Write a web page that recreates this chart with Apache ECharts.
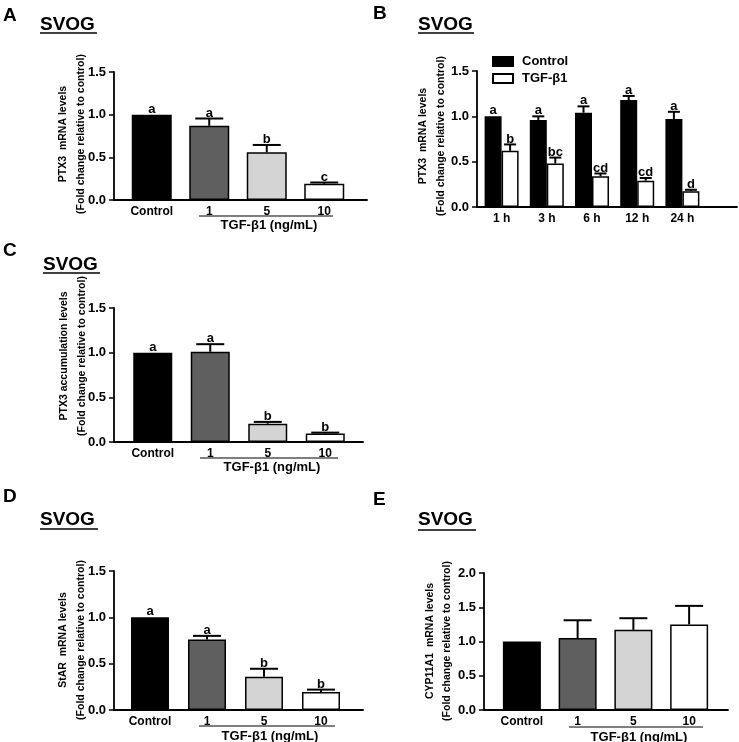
<!DOCTYPE html>
<html>
<head>
<meta charset="utf-8">
<script src="https://cdn.jsdelivr.net/npm/echarts@6/dist/echarts.min.js"></script>
<style>
html,body{margin:0;padding:0;background:#fff;}
#main{width:739px;height:742px;}
</style>
</head>
<body>
<div id="main"></div>
<script>
// ---- data ----
var doseCats = ['Control', '1', '5', '10'];
var doseColors = ['#000000', '#5f5f5f', '#d4d4d4', '#ffffff'];

// A: PTX3 mRNA, dose
var aVals = [1.0, 0.87, 0.56, 0.19];
var aErr = [0, 0.085, 0.085, 0.015];
var aLetters = ['a', 'a', 'b', 'c'];

// B: PTX3 mRNA, time course
var timeCats = ['1 h', '3 h', '6 h', '12 h', '24 h'];
var bCtrl = [1.0, 0.96, 1.04, 1.18, 0.97];
var bCtrlErr = [0, 0.04, 0.07, 0.045, 0.08];
var bCtrlLetters = ['a', 'a', 'a', 'a', 'a'];
var bTgf = [0.62, 0.48, 0.34, 0.29, 0.175];
var bTgfErr = [0.07, 0.065, 0.03, 0.03, 0.015];
var bTgfLetters = ['b', 'bc', 'cd', 'cd', 'd'];

// C: PTX3 accumulation
var cVals = [1.0, 1.01, 0.205, 0.095];
var cErr = [0, 0.085, 0.02, 0.01];
var cLetters = ['a', 'a', 'b', 'b'];

// D: StAR mRNA
var dVals = [1.0, 0.76, 0.36, 0.195];
var dErr = [0, 0.04, 0.085, 0.025];
var dLetters = ['a', 'a', 'b', 'b'];

// E: CYP11A1 mRNA
var eVals = [1.0, 1.05, 1.17, 1.25];
var eErr = [0, 0.26, 0.17, 0.27];
var eLetters = ['', '', '', ''];

var yTicks15 = [0, 1.5, 0.5];
var yTicks20 = [0, 2.0, 0.5];

var FONT = '"Liberation Sans", Arial, sans-serif';

// ---- layout of each panel (pixels) ----
var panels = [
  {ax: 114, top: 72, y0: 200, end: 367, inL: 123, inW: 230, bw: 40, ticks: yTicks15, cats: doseCats,
   t1: 'PTX3  mRNA levels', t1x: 63, t2x: 81, tcy: 134},
  {ax: 477, top: 71, y0: 207, end: 737, inL: 479, inW: 226, bw: 17, ticks: yTicks15, cats: timeCats,
   t1: 'PTX3  mRNA levels', t1x: 423, t2x: 441, tcy: 136},
  {ax: 114, top: 308, y0: 442, end: 363, inL: 124, inW: 230, bw: 39, ticks: yTicks15, cats: doseCats,
   t1: 'PTX3 accumulation levels', t1x: 64, t2x: 82, tcy: 356},
  {ax: 114, top: 571, y0: 710, end: 363, inL: 121.5, inW: 228, bw: 38, ticks: yTicks15, cats: doseCats,
   t1: 'StAR  mRNA levels', t1x: 63, t2x: 81, tcy: 640},
  {ax: 484, top: 573, y0: 710, end: 728, inL: 494, inW: 223, bw: 38, ticks: yTicks20, cats: doseCats,
   t1: 'CYP11A1  mRNA levels', t1x: 430, t2x: 447, tcy: 641}
];

var heads = [
  {l: 'A', lx: 3, ly: 16, sx: 40, sy: 25, uy: 33, ux2: 97},
  {l: 'B', lx: 373, ly: 14, sx: 418, sy: 25, uy: 33, ux2: 474},
  {l: 'C', lx: 3, ly: 251, sx: 43, sy: 265, uy: 273, ux2: 100},
  {l: 'D', lx: 3, ly: 497, sx: 40, sy: 520, uy: 529, ux2: 98},
  {l: 'E', lx: 373, ly: 500, sx: 418, sy: 520, uy: 530, ux2: 476}
];

// TGF-b1 dose brackets under panels A, C, D, E
var brackets = [
  {x1: 199, x2: 333, y: 216, ty: 225},
  {x1: 200, x2: 338, y: 458, ty: 467},
  {x1: 199, x2: 335, y: 726, ty: 736},
  {x1: 569, x2: 703, y: 727, ty: 737}
];

var grids = [], xAxes = [], yAxes = [], series = [], graphics = [];

function errSeries(gi, vals, errs, letters, offset, capW) {
  return {
    type: 'custom',
    xAxisIndex: gi, yAxisIndex: gi,
    z: 5,
    data: vals.map(function (v, i) { return [i, v, errs[i]]; }),
    renderItem: function (params, api) {
      var i = api.value(0), v = api.value(1), e = api.value(2);
      var base = api.coord([i, v]);
      var top = api.coord([i, v + e]);
      var x = base[0] + offset;
      var ch = [];
      if (e > 0) {
        ch.push({type: 'line', shape: {x1: x, y1: base[1], x2: x, y2: top[1]}, style: {stroke: '#000', lineWidth: 2}});
        ch.push({type: 'line', shape: {x1: x - capW / 2, y1: top[1], x2: x + capW / 2, y2: top[1]}, style: {stroke: '#000', lineWidth: 2}});
      }
      var lab = letters[params.dataIndex];
      if (lab) {
        ch.push({type: 'text', style: {text: lab, x: x, y: top[1] + 1, align: 'center', verticalAlign: 'bottom',
          font: 'bold 13px ' + FONT, fill: '#000'}});
      }
      return {type: 'group', children: ch};
    }
  };
}

panels.forEach(function (p, k) {
  var h = p.y0 - p.top;
  // outer grid: axis lines + y labels
  grids.push({left: p.ax, top: p.top, width: p.end - p.ax, height: h});
  // inner grid: categories / bars
  grids.push({left: p.inL, top: p.top, width: p.inW, height: h});
  var go = 2 * k, gi = 2 * k + 1;
  xAxes.push({gridIndex: go, type: 'value', min: 0, max: 1,
    axisLine: {show: true, lineStyle: {color: '#000', width: 1.8}},
    axisTick: {show: false}, axisLabel: {show: false}, splitLine: {show: false}});
  xAxes.push({gridIndex: gi, type: 'category', data: p.cats,
    axisLine: {show: false}, axisTick: {show: false}, splitLine: {show: false},
    axisLabel: {color: '#000', fontWeight: 'bold', fontSize: 12, fontFamily: FONT, margin: 6}});
  yAxes.push({gridIndex: go, type: 'value', min: p.ticks[0], max: p.ticks[1], interval: p.ticks[2],
    axisLine: {show: true, lineStyle: {color: '#000', width: 1.8}},
    axisTick: {show: true, length: 5, lineStyle: {color: '#000', width: 1.5}},
    splitLine: {show: false},
    axisLabel: {color: '#000', fontWeight: 'bold', fontSize: 13, fontFamily: FONT, margin: 8,
      formatter: function (v) { return v.toFixed(1); }}});
  yAxes.push({gridIndex: gi, type: 'value', min: p.ticks[0], max: p.ticks[1], interval: p.ticks[2], show: false});

  graphics.push({type: 'text', x: p.t1x, y: p.tcy, rotation: Math.PI / 2,
    style: {text: p.t1, x: 0, y: 0, align: 'center', verticalAlign: 'middle', font: 'bold 10.5px ' + FONT, fill: '#000'}});
  graphics.push({type: 'text', x: p.t2x, y: p.tcy, rotation: Math.PI / 2,
    style: {text: '(Fold change relative to control)', x: 0, y: 0, align: 'center', verticalAlign: 'middle',
      font: 'bold 10.5px ' + FONT, fill: '#000'}});
});

function doseBars(gi, name, vals) {
  return {
    type: 'bar', name: name, xAxisIndex: gi, yAxisIndex: gi, barWidth: panels[(gi - 1) / 2].bw,
    data: vals.map(function (v, i) {
      return {value: v, itemStyle: {color: doseColors[i], borderColor: '#000', borderWidth: 1.5}};
    })
  };
}

// A
series.push(doseBars(1, 'PTX3 mRNA', aVals));
series.push(errSeries(1, aVals, aErr, aLetters, 0, 28));
// B
series.push({type: 'bar', name: 'Control', xAxisIndex: 3, yAxisIndex: 3, barWidth: 17, barGap: '0%',
  itemStyle: {color: '#000', borderColor: '#000', borderWidth: 1.5}, data: bCtrl});
series.push({type: 'bar', name: 'TGF-β1', xAxisIndex: 3, yAxisIndex: 3, barWidth: 17, barGap: '0%',
  itemStyle: {color: '#fff', borderColor: '#000', borderWidth: 1.5}, data: bTgf});
series.push(errSeries(3, bCtrl, bCtrlErr, bCtrlLetters, -8.5, 12));
series.push(errSeries(3, bTgf, bTgfErr, bTgfLetters, 8.5, 12));
// C
series.push(doseBars(5, 'PTX3 accumulation', cVals));
series.push(errSeries(5, cVals, cErr, cLetters, 0, 28));
// D
series.push(doseBars(7, 'StAR mRNA', dVals));
series.push(errSeries(7, dVals, dErr, dLetters, 0, 28));
// E
series.push(doseBars(9, 'CYP11A1 mRNA', eVals));
series.push(errSeries(9, eVals, eErr, eLetters, 0, 28));

heads.forEach(function (hd) {
  graphics.push({type: 'text', x: hd.lx, y: hd.ly,
    style: {text: hd.l, x: 0, y: 0, align: 'left', verticalAlign: 'middle', font: 'bold 19px ' + FONT, fill: '#000'}});
  graphics.push({type: 'text', x: hd.sx, y: hd.sy,
    style: {text: 'SVOG', x: 0, y: 0, align: 'left', verticalAlign: 'middle', font: 'bold 19px ' + FONT, fill: '#000'}});
  graphics.push({type: 'line', shape: {x1: hd.sx, y1: hd.uy, x2: hd.ux2, y2: hd.uy}, style: {stroke: '#000', lineWidth: 1.5}});
});

brackets.forEach(function (b) {
  graphics.push({type: 'line', shape: {x1: b.x1, y1: b.y, x2: b.x2, y2: b.y}, style: {stroke: '#000', lineWidth: 1.2}});
  graphics.push({type: 'text', x: (b.x1 + b.x2) / 2 + 3, y: b.ty,
    style: {text: 'TGF-β1 (ng/mL)', x: 0, y: 0, align: 'center', verticalAlign: 'middle', font: 'bold 13px ' + FONT, fill: '#000'}});
});

var chart = echarts.init(document.getElementById('main'), null, {renderer: 'canvas'});
chart.setOption({
  backgroundColor: '#fff',
  animation: false,
  legend: {
    data: ['Control', 'TGF-β1'], orient: 'vertical', left: 487, top: 50,
    itemWidth: 20, itemHeight: 9, itemGap: 4, icon: 'rect', selectedMode: false,
    textStyle: {color: '#000', fontWeight: 'bold', fontSize: 13, fontFamily: FONT, padding: [0, 0, 0, 4]}
  },
  grid: grids,
  xAxis: xAxes,
  yAxis: yAxes,
  series: series,
  graphic: graphics
});
</script>
</body>
</html>
